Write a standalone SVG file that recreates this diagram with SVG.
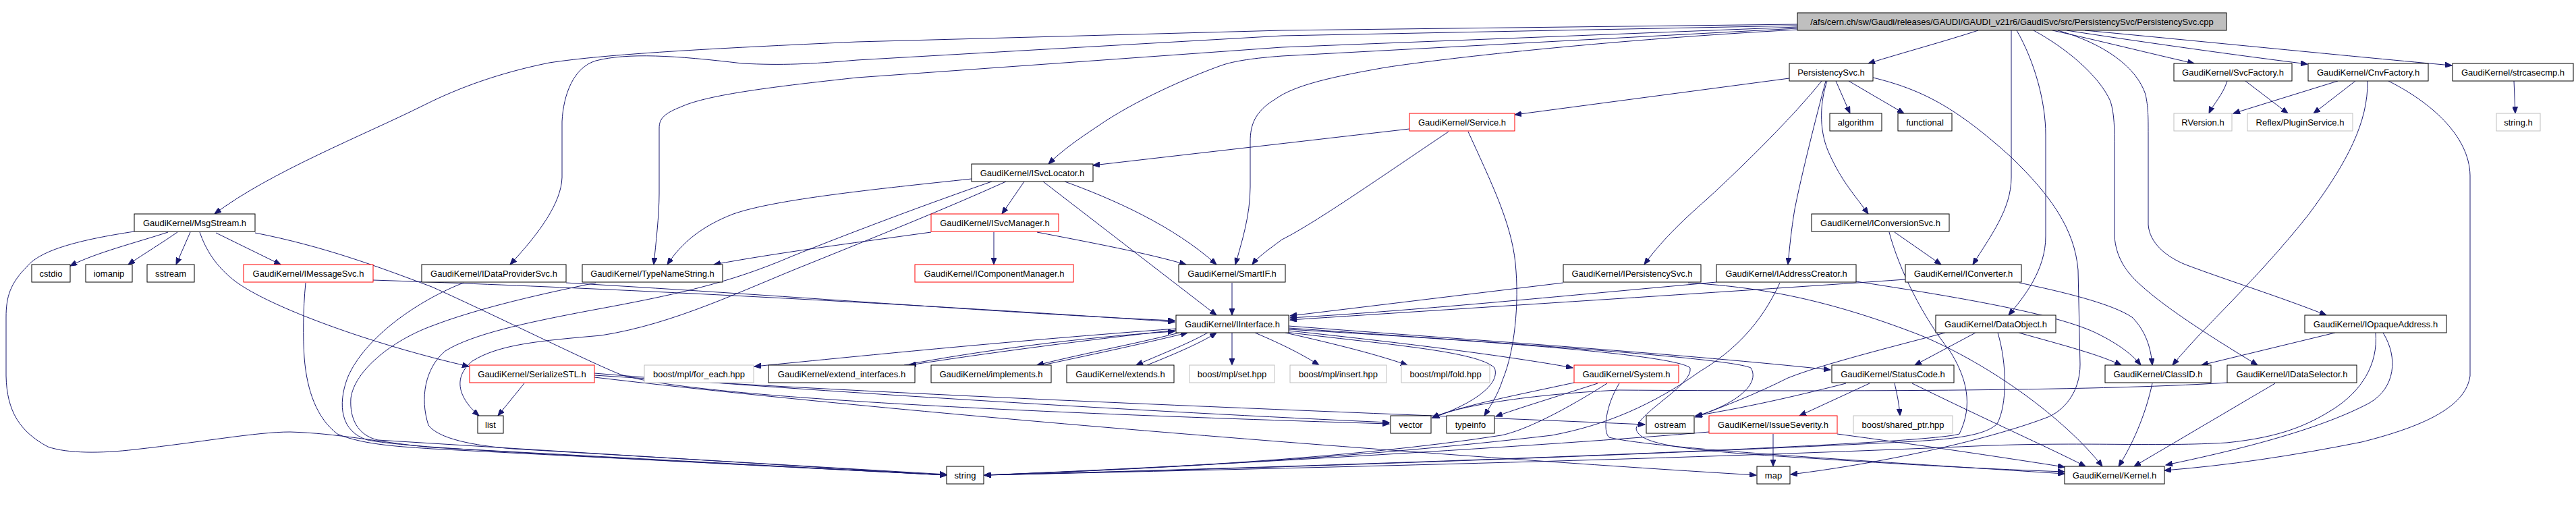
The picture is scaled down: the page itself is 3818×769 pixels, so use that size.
<svg xmlns="http://www.w3.org/2000/svg" width="3818" height="769" viewBox="0 0 3818 769">
<style>
.n rect{fill:#fff;stroke:#000;stroke-width:1}
.r rect{stroke:#f00}
.g rect{stroke:#bfbfbf}
.m rect{fill:#bfbfbf}
text{font-family:"Liberation Sans",Arial,sans-serif;font-size:13px;text-anchor:middle;fill:#000}
#edges path{fill:none;stroke:#191970;stroke-width:1;marker-end:url(#a)}
</style>
<defs>
<marker id="a" markerUnits="userSpaceOnUse" markerWidth="11" markerHeight="8" refX="10" refY="4" orient="auto"><path d="M0,0L10,4L0,8z" fill="#191970" stroke="#191970"/></marker>
</defs>
<rect width="3818" height="769" fill="#fff"/>
<g id="edges">
<path d="M2932,45 C2880,62 2820,78 2769,94"/>
<path d="M3042,45 C3110,60 3190,80 3252,94"/>
<path d="M3063,45 C3160,60 3300,80 3420,95"/>
<path d="M3090,45 C3250,60 3500,85 3634,97"/>
<path d="M2664,36 L1900,45 L1270,62 C1050,72 900,80 814,93 C740,108 680,130 630,155 C540,200 400,255 318,317"/>
<path d="M2664,38 L1900,53 L1270,89 C1200,95 1160,97 1100,94 C1000,82 930,78 883,90 C850,100 835,140 833,180 L833,263 C832,300 800,345 756,392"/>
<path d="M2664,40 L1900,70 L1270,115 C1150,128 1050,140 1010,158 C985,168 977,175 977,190 L977,287 C977,320 972,360 969,392"/>
<path d="M2664,42 L1900,83 C1860,86 1830,90 1810,97 C1760,115 1680,150 1627,187 C1600,205 1575,222 1554,243"/>
<path d="M2664,44 C2400,58 2150,85 2053,100 C1980,113 1920,125 1890,147 C1860,165 1853,185 1853,210 L1853,277 C1853,320 1840,360 1831,392"/>
<path d="M2981,45 L2981,263 C2981,310 2950,350 2924,392"/>
<path d="M2989,45 C3015,90 3032,150 3032,200 L3032,350 C3032,400 3000,440 2977,467"/>
<path d="M3050,45 C3120,65 3167,100 3180,140 C3184,160 3184,170 3184,200 L3184,333 C3186,360 3210,380 3239,392 C3300,415 3380,440 3448,467"/>
<path d="M3014,45 C3060,70 3110,110 3128,150 C3134,170 3134,190 3134,220 L3134,350 C3136,380 3150,400 3165,415 C3200,450 3270,495 3346,541"/>
<path d="M2721,120 L2742,168"/>
<path d="M2740,120 L2822,168"/>
<path d="M2708,120 C2698,150 2695,190 2710,225 C2730,270 2750,290 2769,317"/>
<path d="M2706,120 C2690,180 2670,260 2660,310 C2655,340 2652,370 2650,392"/>
<path d="M2700,120 C2660,170 2590,240 2530,295 C2490,330 2460,360 2437,392"/>
<path d="M2652,116 L2245,170"/>
<path d="M2776,115 C2850,133 2900,160 2981,233 C3040,290 3075,340 3080,400 L3083,540 C3083,580 3060,610 3030,620 C2950,650 2800,685 2654,703"/>
<path d="M3301,120 C3295,140 3280,155 3274,168"/>
<path d="M3328,120 L3391,168"/>
<path d="M3465,120 L3310,168"/>
<path d="M3491,120 L3429,168"/>
<path d="M3726,120 L3728,168"/>
<path d="M3509,120 C3510,180 3480,240 3420,320 C3340,420 3270,480 3220,541"/>
<path d="M3540,120 C3600,150 3660,200 3661,260 L3661,557 C3655,600 3600,630 3500,655 C3400,675 3300,690 3208,697"/>
<path d="M2089,191 L1620,245"/>
<path d="M2147,195 C2050,260 1950,330 1900,355 C1880,370 1865,380 1856,392"/>
<path d="M2176,195 C2210,270 2240,330 2246,390 C2252,450 2245,520 2227,563 C2220,585 2210,600 2200,616"/>
<path d="M1518,269 L1485,317"/>
<path d="M1546,269 L1803,467"/>
<path d="M1578,269 C1650,295 1740,335 1803,392"/>
<path d="M1440,265 C1300,280 1150,295 1087,317 C1040,335 1010,360 989,392"/>
<path d="M1470,269 C1380,300 1260,345 1173,380 C1080,420 1000,437 875,460 C780,478 700,495 660,520 C630,545 622,590 635,630 C650,650 700,660 760,665 L1403,703"/>
<path d="M1491,269 C1400,310 1300,350 1201,390 C1100,430 1000,480 891,497 C800,505 740,510 700,535 C670,560 680,590 710,616"/>
<path d="M1380,344 C1250,362 1150,375 1058,392"/>
<path d="M1473,344 L1473,392"/>
<path d="M1537,344 C1620,360 1700,375 1758,392"/>
<path d="M249,344 C200,360 140,375 104,394"/>
<path d="M263,344 C240,360 215,375 190,392"/>
<path d="M282,344 L261,392"/>
<path d="M320,345 L416,392"/>
<path d="M296,344 C305,370 320,395 349,417 C400,455 550,510 695,543"/>
<path d="M378,345 C480,365 560,395 640,425 C740,470 870,535 920,555 C1000,580 1300,605 2059,628"/>
<path d="M199,343 C120,355 60,370 40,395 C15,420 9,440 9,470 L9,557 C10,610 30,640 71,662 C100,672 150,672 200,666 C300,655 380,640 430,640 C500,642 560,655 640,663 L1403,704"/>
<path d="M453,419 C449,460 449,500 451,530 C455,580 470,620 500,643 C540,660 600,662 640,665 L1403,704"/>
<path d="M553,415 C1000,430 1500,460 1741,477"/>
<path d="M687,419 C620,445 540,500 515,560 C500,600 505,640 545,652 C600,662 700,668 1403,704"/>
<path d="M839,419 C1200,440 1500,465 1741,475"/>
<path d="M883,419 C780,440 700,460 640,483 C580,505 525,550 520,590 C518,620 530,645 560,652 L1403,704"/>
<path d="M1826,419 L1826,467"/>
<path d="M2317,419 L1912,468"/>
<path d="M2502,419 C2600,425 2700,440 2847,497 C2950,540 3060,620 3116,691"/>
<path d="M2544,418 C2300,440 2100,460 1912,471"/>
<path d="M2751,417 C2900,440 3051,465 3110,495 C3140,510 3160,525 3173,541"/>
<path d="M2638,419 C2610,480 2570,520 2520,550 C2450,600 2380,630 2300,645 C2000,680 1700,695 1459,704"/>
<path d="M2808,344 L2877,392"/>
<path d="M2800,344 C2815,400 2850,470 2890,520 C2915,560 2925,600 2904,643 C2850,660 2000,690 1459,704"/>
<path d="M2824,414 C2600,430 2200,455 1912,474"/>
<path d="M2993,419 C3060,433 3130,450 3160,470 C3180,490 3188,515 3190,541"/>
<path d="M2928,493 L2838,541"/>
<path d="M2992,493 C3060,512 3110,525 3144,541"/>
<path d="M2883,493 C2800,515 2700,540 2650,560 C2600,585 2560,600 2513,618"/>
<path d="M2961,493 C2975,540 2975,600 2960,628 C2940,648 2880,652 2800,656 C2300,680 1800,696 1459,704"/>
<path d="M3461,493 L3263,541"/>
<path d="M3532,493 C3555,530 3550,575 3512,597 C3450,630 3350,660 3210,689"/>
<path d="M3521,493 C3525,540 3500,580 3457,607 C3420,630 3380,648 3300,656 C3200,662 3100,655 2950,660 C2500,680 2000,692 1459,704"/>
<path d="M1743,487 C1500,505 1300,525 1118,543"/>
<path d="M1743,489 C1600,505 1450,525 1348,541"/>
<path d="M1340,541 C1450,520 1600,500 1741,491"/>
<path d="M1748,493 C1680,510 1600,525 1537,541"/>
<path d="M1545,541 C1620,525 1700,508 1760,493"/>
<path d="M1790,493 C1760,510 1720,525 1684,541"/>
<path d="M1700,541 C1740,525 1780,508 1803,493"/>
<path d="M1826,493 L1826,541"/>
<path d="M1860,493 C1900,510 1930,525 1955,541"/>
<path d="M1905,493 C1980,510 2040,525 2086,541"/>
<path d="M1910,490 C2100,510 2250,530 2331,545"/>
<path d="M1910,483 C2200,505 2500,525 2713,548"/>
<path d="M1910,486 C2250,510 2560,530 2595,545 C2610,570 2570,600 2513,617"/>
<path d="M1905,492 C2050,510 2190,520 2215,545 C2225,570 2180,600 2123,619"/>
<path d="M1910,488 C2200,505 2480,525 2505,545 C2510,570 2430,610 2425,635 C2428,660 2500,668 2700,680 C2850,690 2950,695 3060,699"/>
<path d="M881,553 C1200,580 1700,610 2059,626"/>
<path d="M881,556 C1400,590 2000,610 2438,629"/>
<path d="M881,559 C1400,620 2200,680 2603,704"/>
<path d="M777,568 L738,616"/>
<path d="M2333,567 C2250,585 2170,600 2123,619"/>
<path d="M2368,568 C2300,590 2250,605 2217,617"/>
<path d="M2382,568 C2300,620 2250,640 2225,645 C2000,680 1700,695 1459,704"/>
<path d="M2400,568 C2380,600 2375,640 2385,648 C2450,665 2800,685 3060,702"/>
<path d="M2771,568 L2667,616"/>
<path d="M2808,568 C2812,585 2815,600 2816,616"/>
<path d="M2834,568 C2950,625 3030,660 3091,691"/>
<path d="M2736,568 C2650,590 2580,605 2513,616"/>
<path d="M3190,568 C3180,615 3160,660 3140,691"/>
<path d="M3372,568 L3163,691"/>
<path d="M3301,567 C3100,580 2700,580 2400,578 C2250,585 2150,605 2123,619"/>
<path d="M2628,643 L2628,691"/>
<path d="M2723,643 C2850,660 2950,675 3060,692"/>
<path d="M2533,640 C2300,660 1800,690 1459,704"/>
</g>
<g id="n0" class="n m"><rect x="2664" y="19" width="636" height="26"/><text x="2982" y="37">/afs/cern.ch/sw/Gaudi/releases/GAUDI/GAUDI_v21r6/GaudiSvc/src/PersistencySvc/PersistencySvc.cpp</text></g>
<g id="n1" class="n"><rect x="2652" y="94" width="124" height="26"/><text x="2714" y="112">PersistencySvc.h</text></g>
<g id="n2" class="n"><rect x="3222" y="94" width="175" height="26"/><text x="3309.5" y="112">GaudiKernel/SvcFactory.h</text></g>
<g id="n3" class="n"><rect x="3421" y="94" width="178" height="26"/><text x="3510" y="112">GaudiKernel/CnvFactory.h</text></g>
<g id="n4" class="n"><rect x="3635" y="94" width="179" height="26"/><text x="3724.5" y="112">GaudiKernel/strcasecmp.h</text></g>
<g id="n5" class="n"><rect x="2712" y="168" width="77" height="26"/><text x="2750.5" y="186">algorithm</text></g>
<g id="n6" class="n"><rect x="2813" y="168" width="80" height="26"/><text x="2853" y="186">functional</text></g>
<g id="n7" class="n g"><rect x="3222" y="168" width="86" height="26"/><text x="3265" y="186">RVersion.h</text></g>
<g id="n8" class="n g"><rect x="3331" y="168" width="156" height="26"/><text x="3409" y="186">Reflex/PluginService.h</text></g>
<g id="n9" class="n g"><rect x="3700" y="168" width="65" height="26"/><text x="3732.5" y="186">string.h</text></g>
<g id="n10" class="n r"><rect x="2089" y="168" width="156" height="26"/><text x="2167" y="186">GaudiKernel/Service.h</text></g>
<g id="n11" class="n"><rect x="1440" y="243" width="180" height="26"/><text x="1530" y="261">GaudiKernel/ISvcLocator.h</text></g>
<g id="n12" class="n r"><rect x="1380" y="317" width="189" height="26"/><text x="1474.5" y="335">GaudiKernel/ISvcManager.h</text></g>
<g id="n13" class="n"><rect x="199" y="317" width="179" height="26"/><text x="288.5" y="335">GaudiKernel/MsgStream.h</text></g>
<g id="n14" class="n"><rect x="2685" y="317" width="204" height="26"/><text x="2787" y="335">GaudiKernel/IConversionSvc.h</text></g>
<g id="n15" class="n"><rect x="47" y="392" width="57" height="26"/><text x="75.5" y="410">cstdio</text></g>
<g id="n16" class="n"><rect x="127" y="392" width="69" height="26"/><text x="161.5" y="410">iomanip</text></g>
<g id="n17" class="n"><rect x="218" y="392" width="70" height="26"/><text x="253" y="410">sstream</text></g>
<g id="n18" class="n r"><rect x="361" y="392" width="192" height="26"/><text x="457" y="410">GaudiKernel/IMessageSvc.h</text></g>
<g id="n19" class="n"><rect x="625" y="392" width="214" height="26"/><text x="732" y="410">GaudiKernel/IDataProviderSvc.h</text></g>
<g id="n20" class="n"><rect x="863" y="392" width="208" height="26"/><text x="967" y="410">GaudiKernel/TypeNameString.h</text></g>
<g id="n21" class="n r"><rect x="1356" y="392" width="235" height="26"/><text x="1473.5" y="410">GaudiKernel/IComponentManager.h</text></g>
<g id="n22" class="n"><rect x="1747" y="392" width="158" height="26"/><text x="1826" y="410">GaudiKernel/SmartIF.h</text></g>
<g id="n23" class="n"><rect x="2317" y="392" width="204" height="26"/><text x="2419" y="410">GaudiKernel/IPersistencySvc.h</text></g>
<g id="n24" class="n"><rect x="2544" y="392" width="207" height="26"/><text x="2647.5" y="410">GaudiKernel/IAddressCreator.h</text></g>
<g id="n25" class="n"><rect x="2824" y="392" width="172" height="26"/><text x="2910" y="410">GaudiKernel/IConverter.h</text></g>
<g id="n26" class="n"><rect x="1743" y="467" width="167" height="26"/><text x="1826.5" y="485">GaudiKernel/IInterface.h</text></g>
<g id="n27" class="n"><rect x="2869" y="467" width="178" height="26"/><text x="2958" y="485">GaudiKernel/DataObject.h</text></g>
<g id="n28" class="n"><rect x="3416" y="467" width="210" height="26"/><text x="3521" y="485">GaudiKernel/IOpaqueAddress.h</text></g>
<g id="n29" class="n r"><rect x="696" y="541" width="185" height="26"/><text x="788.5" y="559">GaudiKernel/SerializeSTL.h</text></g>
<g id="n30" class="n g"><rect x="955" y="541" width="162" height="26"/><text x="1036" y="559">boost/mpl/for_each.hpp</text></g>
<g id="n31" class="n"><rect x="1139" y="541" width="217" height="26"/><text x="1247.5" y="559">GaudiKernel/extend_interfaces.h</text></g>
<g id="n32" class="n"><rect x="1380" y="541" width="178" height="26"/><text x="1469" y="559">GaudiKernel/implements.h</text></g>
<g id="n33" class="n"><rect x="1581" y="541" width="159" height="26"/><text x="1660.5" y="559">GaudiKernel/extends.h</text></g>
<g id="n34" class="n g"><rect x="1763" y="541" width="126" height="26"/><text x="1826" y="559">boost/mpl/set.hpp</text></g>
<g id="n35" class="n g"><rect x="1912" y="541" width="143" height="26"/><text x="1983.5" y="559">boost/mpl/insert.hpp</text></g>
<g id="n36" class="n g"><rect x="2077" y="541" width="131" height="26"/><text x="2142.5" y="559">boost/mpl/fold.hpp</text></g>
<g id="n37" class="n r"><rect x="2333" y="541" width="155" height="26"/><text x="2410.5" y="559">GaudiKernel/System.h</text></g>
<g id="n38" class="n"><rect x="2715" y="541" width="181" height="26"/><text x="2805.5" y="559">GaudiKernel/StatusCode.h</text></g>
<g id="n39" class="n"><rect x="3120" y="541" width="157" height="26"/><text x="3198.5" y="559">GaudiKernel/ClassID.h</text></g>
<g id="n40" class="n"><rect x="3301" y="541" width="192" height="26"/><text x="3397" y="559">GaudiKernel/IDataSelector.h</text></g>
<g id="n41" class="n"><rect x="708" y="616" width="38" height="26"/><text x="727" y="634">list</text></g>
<g id="n42" class="n"><rect x="2061" y="616" width="60" height="26"/><text x="2091" y="634">vector</text></g>
<g id="n43" class="n"><rect x="2144" y="616" width="71" height="26"/><text x="2179.5" y="634">typeinfo</text></g>
<g id="n44" class="n"><rect x="2440" y="616" width="71" height="26"/><text x="2475.5" y="634">ostream</text></g>
<g id="n45" class="n r"><rect x="2533" y="616" width="190" height="26"/><text x="2628" y="634">GaudiKernel/IssueSeverity.h</text></g>
<g id="n46" class="n g"><rect x="2747" y="616" width="147" height="26"/><text x="2820.5" y="634">boost/shared_ptr.hpp</text></g>
<g id="n47" class="n"><rect x="1403" y="691" width="55" height="26"/><text x="1430.5" y="709">string</text></g>
<g id="n48" class="n"><rect x="2604" y="691" width="49" height="26"/><text x="2628.5" y="709">map</text></g>
<g id="n49" class="n"><rect x="3060" y="691" width="148" height="26"/><text x="3134" y="709">GaudiKernel/Kernel.h</text></g>
</svg>
